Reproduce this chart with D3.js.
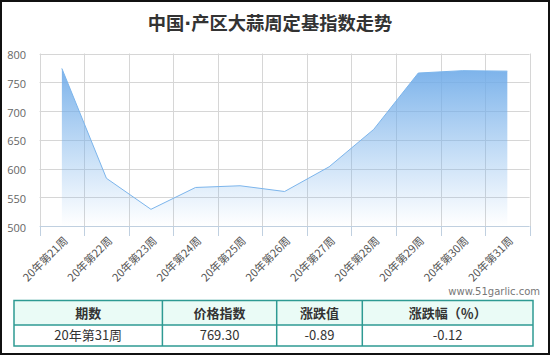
<!DOCTYPE html>
<html><head><meta charset="utf-8">
<script src="https://cdn.jsdelivr.net/npm/d3@7/dist/d3.min.js"></script>
<style>body{margin:0;background:#fff;}svg{display:block;font-family:"Microsoft YaHei","Noto Sans CJK SC",sans-serif;}</style>
</head><body><svg id="c" width="550" height="355"></svg>
<script>
const categories = ["20年第21周","20年第22周","20年第23周","20年第24周","20年第25周","20年第26周","20年第27周","20年第28周","20年第29周","20年第30周","20年第31周"];
const values = [774, 583, 529, 567, 570, 560, 603, 668, 766, 770.19, 769.30];
const yTicks = [500, 550, 600, 650, 700, 750, 800];
const tableHeader = ["期数","价格指数","涨跌值","涨跌幅（％）"];
const tableRow = ["20年第31周","769.30","-0.89","-0.12"];
const titleParts = ["中国", "·", "产区大蒜周定基指数走势"];
const watermark = "www.51garlic.com";

const svg = d3.select("#c");
const L = 39.6, R = 529.6, T = 53.5, B = 226;
const x = d3.scaleBand().domain(categories).range([L, R]).padding(0);
const y = d3.scaleLinear().domain([500, 800]).range([B, T]);

svg.append("rect").attr("x",1).attr("y",1).attr("width",548).attr("height",353)
  .attr("fill","#fff").attr("stroke","#111").attr("stroke-width",2);

const tt = svg.append("text").attr("x",270).attr("y",29.5).attr("text-anchor","middle")
  .attr("font-size",18.3).attr("font-weight","bold").attr("fill","#333");
tt.append("tspan").text(titleParts[0]);
tt.append("tspan").attr("font-family","'DejaVu Sans',sans-serif").text(titleParts[1]);
tt.append("tspan").text(titleParts[2]);

const defs = svg.append("defs");
const g = defs.append("linearGradient").attr("id","ag").attr("gradientUnits","userSpaceOnUse")
  .attr("x1",0).attr("x2",0).attr("y1",T).attr("y2",B);
g.append("stop").attr("offset",0).attr("stop-color","#6eaae8").attr("stop-opacity",1);
g.append("stop").attr("offset",1).attr("stop-color","#7cb5ec").attr("stop-opacity",0);

// horizontal grid
svg.append("g").selectAll("line").data(yTicks.slice(1)).join("line")
  .attr("x1",L).attr("x2",R).attr("y1",d=>Math.round(y(d))+0.5).attr("y2",d=>Math.round(y(d))+0.5)
  .attr("stroke","#d6d6d6").attr("stroke-width",1);

// vertical grid at band boundaries
const bounds = categories.map(c=>x(c)).concat([R]);
svg.append("g").selectAll("line").data(bounds).join("line")
  .attr("x1",d=>Math.round(d)+0.5).attr("x2",d=>Math.round(d)+0.5).attr("y1",T).attr("y2",B)
  .attr("stroke","#d6d6d6").attr("stroke-width",1);

// area + line
const cx = c => x(c) + x.bandwidth()/2;
const area = d3.area().x((d,i)=>cx(categories[i])).y0(B).y1(d=>y(d));
const line = d3.line().x((d,i)=>cx(categories[i])).y(d=>y(d));
svg.append("path").datum(values).attr("d",area).attr("fill","url(#ag)");
svg.append("path").datum(values).attr("d",line).attr("fill","none").attr("stroke","#7cb5ec").attr("stroke-width",1);

// x axis line and ticks
svg.append("line").attr("x1",L).attr("x2",R).attr("y1",B+0.5).attr("y2",B+0.5).attr("stroke","#c0d0e0");
svg.append("g").selectAll("line").data(bounds).join("line")
  .attr("x1",d=>Math.round(d)+0.5).attr("x2",d=>Math.round(d)+0.5).attr("y1",B).attr("y2",B+10)
  .attr("stroke","#c0d0e0");

// y labels
svg.append("g").selectAll("text").data(yTicks).join("text")
  .attr("x",26).attr("y",d=>y(d)+1).attr("text-anchor","end").attr("dominant-baseline","central")
  .attr("font-size",11).attr("fill","#666").attr("font-family","'Open Sans',sans-serif").text(d=>d);

// x labels
svg.append("g").selectAll("text").data(categories).join("text")
  .attr("transform",c=>`translate(${cx(c)+3},${B+12}) rotate(-45)`)
  .attr("text-anchor","end").attr("dominant-baseline","central")
  .attr("font-size",11).attr("fill","#555").text(c=>c);

svg.append("text").attr("x",540).attr("y",295).attr("text-anchor","end")
  .attr("font-size",10).attr("fill","#777").attr("font-family","'DejaVu Sans',sans-serif").text(watermark);

// table
const tx = [14, 162.4, 276.7, 362.3, 533];
const ty = [300.5, 325, 346];
svg.append("rect").attr("x",tx[0]).attr("y",ty[0]).attr("width",tx[4]-tx[0]).attr("height",ty[1]-ty[0]).attr("fill","#eafbf6");
const tb = svg.append("g").attr("stroke","#2e9a93").attr("stroke-width",1.5);
tb.append("rect").attr("x",tx[0]).attr("y",ty[0]).attr("width",tx[4]-tx[0]).attr("height",ty[2]-ty[0]).attr("fill","none");
tb.append("line").attr("x1",tx[0]).attr("x2",tx[4]).attr("y1",ty[1]).attr("y2",ty[1]);
tb.selectAll("line.v").data(tx.slice(1,4)).join("line").attr("class","v")
  .attr("x1",d=>d).attr("x2",d=>d).attr("y1",ty[0]).attr("y2",ty[2]);
svg.append("g").selectAll("text").data(tableHeader).join("text")
  .attr("x",(d,i)=>(tx[i]+tx[i+1])/2).attr("y",318).attr("text-anchor","middle")
  .attr("font-size",13).attr("font-weight","bold").attr("fill","#333").text(d=>d);
svg.append("g").selectAll("text").data(tableRow).join("text")
  .attr("x",(d,i)=>(tx[i]+tx[i+1])/2).attr("y",340).attr("text-anchor","middle")
  .attr("font-size",13).attr("fill","#333").text(d=>d);
</script></body></html>
